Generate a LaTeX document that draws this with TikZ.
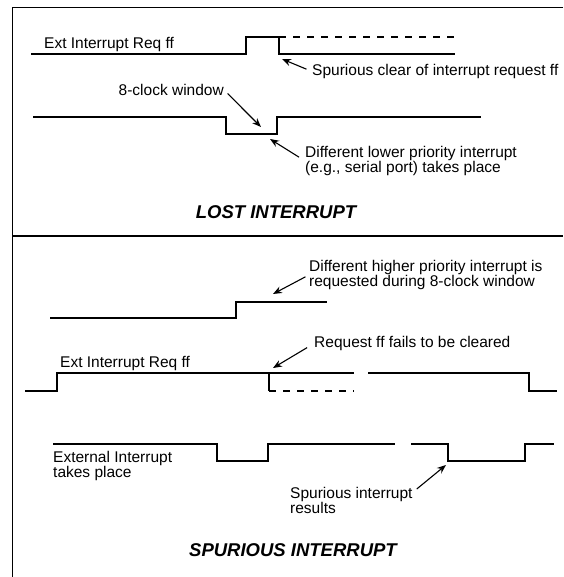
\documentclass[tikz,border=0pt]{standalone}
\usepackage{fontspec}
\setmainfont{Liberation Sans}
\usetikzlibrary{arrows.meta}
\begin{document}
\begin{tikzpicture}[x=1pt,y=-1pt,
        sig/.style={line width=1.3pt},
        dsig/.style={line width=1.3pt, dash pattern=on 7pt off 7pt},
        lbl/.style={inner sep=0pt, align=left, font=\fontsize{15.5}{15}\selectfont},
        ttl/.style={inner sep=0pt, font=\fontsize{18.5}{18.5}\selectfont\bfseries\itshape},
        arr/.style={line width=1.1pt, -{Stealth[length=9pt,width=7pt]}}]
        \useasboundingbox (0,0) rectangle (563,577);
        % frame
        \draw[line width=1.5pt] (563,7.5) -- (12.5,7.5) -- (12.5,577);
        \draw[line width=1.5pt] (12.5,236) -- (563,236);

        % lost interrupt
        \draw[sig] (31,54) -- (246,54) -- (246,37) -- (279,37) -- (279,54) -- (455,54);
        \draw[dsig] (279,37) -- (455,37);
        \draw[sig] (33,117) -- (226,117) -- (226,134) -- (277,134) -- (277,117) -- (481,117);
        \coordinate (t1) at (282,59);
        \coordinate (t2) at (261,127);
        \coordinate (t3) at (270,139);
        \node[lbl, anchor=base west] (e1) at (44,48.5) {Ext Interrupt Req ff};
        \node[lbl, anchor=base west] (l1) at (312,75.5) {Spurious clear of interrupt request ff};
        \node[lbl, anchor=base east] (l2) at (224,95.5) {8-clock window};
        \node[lbl, anchor=north west] (l3) at (305,146) {Different lower priority interrupt\\(e.g., serial port) takes place};
        \draw[arr, shorten <=6pt] (l1.west) -- (t1);
        \draw[arr, shorten <=5pt] (l2.east) -- (t2);
        \draw[arr, shorten <=7pt] (l3.west) -- (t3);
        \node[ttl] (k1) at (276,212) {LOST INTERRUPT};

        % spurious interrupt
        \draw[sig] (50,318) -- (236,318) -- (236,302) -- (327,302);
        \draw[sig] (25,391) -- (57,391) -- (57,373) -- (354,373);
        \draw[sig] (269,373) -- (269,391);
        \draw[dsig] (269,391) -- (354,391);
        \draw[sig] (368,373) -- (529,373) -- (529,391) -- (557,391);
        \draw[sig] (53,444) -- (217,444) -- (217,461) -- (268,461) -- (268,444) -- (395,444);
        \draw[sig] (411,444) -- (448,444) -- (448,461) -- (525,461) -- (525,444) -- (554,444);
        \coordinate (t4) at (273,294);
        \coordinate (t5) at (273,368);
        \coordinate (t6) at (446,465);
        \node[lbl, anchor=north west] (l4) at (309,260) {Different higher priority interrupt is\\requested during 8-clock window};
        \node[lbl, anchor=base west] (l5) at (314,347.5) {Request ff fails to be cleared};
        \node[lbl, anchor=base west] (e2) at (60,367) {Ext Interrupt Req ff};
        \node[lbl, anchor=north west] (e3) at (53,451) {External Interrupt\\takes place};
        \node[lbl, anchor=north west] (l6) at (290,487) {Spurious interrupt\\results};
        \draw[arr, shorten <=4pt] (l4.west) -- (t4);
        \draw[arr, shorten <=8pt] (l5.west) -- (t5);
        \draw[arr] ([shift={(4,2)}]l6.north east) -- (t6);
        \node[ttl] (k2) at (293,550) {SPURIOUS INTERRUPT};
\end{tikzpicture}
\end{document}
